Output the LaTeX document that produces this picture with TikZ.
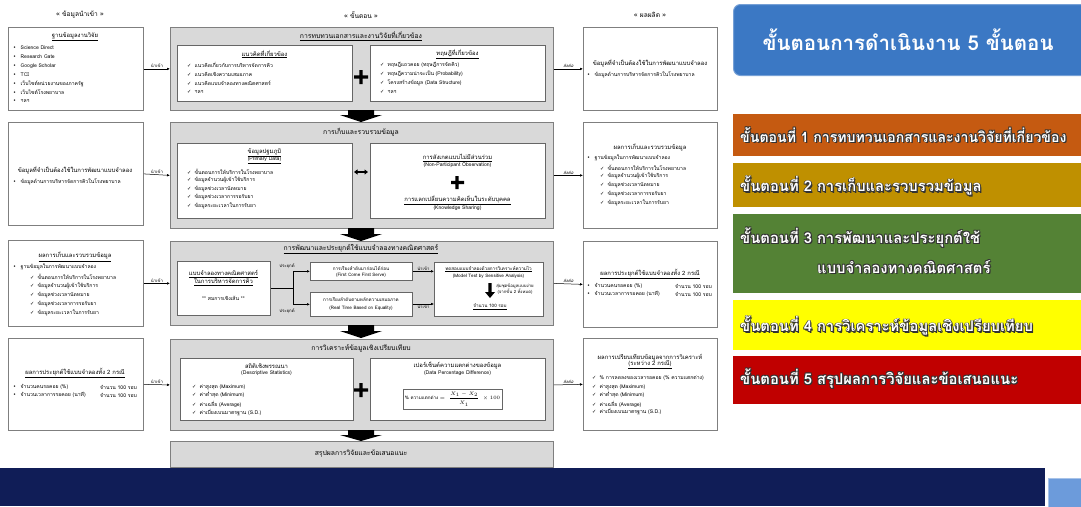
\documentclass[tikz,border=0pt]{standalone}
\usepackage{fontspec}
\setmainfont{Loma}[Script=Thai]
\newfontfamily\symf{DejaVu Sans}
\usetikzlibrary{arrows.meta}
\definecolor{stagegray}{HTML}{D9D9D9}
\definecolor{edgegray}{HTML}{7F7F7F}
\definecolor{titleblue}{HTML}{3B78C4}
\definecolor{sOne}{HTML}{C55A11}
\definecolor{sTwo}{HTML}{BF9000}
\definecolor{sThree}{HTML}{548235}
\definecolor{sFour}{HTML}{FFFF00}
\definecolor{sFive}{HTML}{C00000}
\definecolor{navy}{HTML}{101D57}
\definecolor{lightblue}{HTML}{6C9BDB}
\newcommand\ck{{\symf ✓}}
\newcommand\bul{{\symf •}}
% box from top-left (x1,y1) to bottom-right (x2,y2), pixel units
\newcommand\bx[6]{\node[#2, anchor=north west, minimum width=#5pt-#3pt, minimum height=#6pt-#4pt, inner sep=0pt] (#1) at (#3,#4) {};}
\newcommand\ckline[3]{\node[tx,anchor=west] at (#1,#2) {\makebox[7.5pt][l]{\ck}#3};}
\newcommand\bline[3]{\node[tx,anchor=west] at (#1,#2) {\makebox[7.5pt][l]{\bul}#3};}
% white lettering with a dark outline
\newcommand\shcopy[3]{\rlap{\kern#1pt\raisebox{#2pt}{\color{black!80}#3}}}
\newcommand\outlined[1]{\leavevmode\shcopy{-0.7}{0.7}{#1}\shcopy{0.7}{0.7}{#1}\shcopy{-0.7}{-0.7}{#1}\shcopy{0.7}{-0.7}{#1}\shcopy{1.3}{-1.3}{#1}#1}
\tikzset{
  frame/.style={draw=edgegray, line width=0.8pt, fill=white},
  stage/.style={draw=edgegray, line width=0.8pt, fill=stagegray},
  inner/.style={draw=edgegray!80!black, line width=0.7pt, fill=white},
  tx/.style={font=\fontsize{5.1}{6}\selectfont, inner sep=0pt},
  sm/.style={font=\fontsize{4.6}{5.5}\selectfont, inner sep=0pt},
  ttl/.style={font=\fontsize{5.9}{7}\selectfont, inner sep=0pt},
  stt/.style={font=\fontsize{6.8}{8}\selectfont, inner sep=0pt},
  hdr/.style={font=\fontsize{6.6}{8}\selectfont, inner sep=0pt},
  lbl/.style={font=\fontsize{4.3}{5}\selectfont, inner sep=1pt},
  link/.style={-{Latex[length=3pt,width=2.6pt]}, line width=0.5pt},
  big/.style={font=\fontsize{14.8}{17}\selectfont\bfseries, inner sep=0pt, anchor=west, text=white},
}
\begin{document}
\begin{tikzpicture}[x=1pt, y=-1pt]
\useasboundingbox (0,0) rectangle (1081,506);
\clip (0,0) rectangle (1081,506);
\fill[white] (0,0) rectangle (1081,506);

% column headers
\node[hdr] (h1) at (80,15) {« ข้อมูลนำเข้า »};
\node[hdr] (h2) at (361,15) {« ขั้นตอน »};
\node[hdr] (h3) at (650,15) {« ผลผลิต »};

% ---------------- input column ----------------
\bx{L1}{frame}{8}{27}{143}{110}
\node[ttl] (L1t) at (75,37) {\underline{ฐานข้อมูลงานวิจัย}};
\bline{13}{48}{Science Direct}
\bline{13}{57}{Research Gate}
\bline{13}{66}{Google Scholar}
\bline{13}{75}{TCI}
\bline{13}{84}{เว็บไซต์หน่วยงานของภาครัฐ}
\bline{13}{92}{เว็บไซต์โรงพยาบาล}
\bline{13}{101}{ฯลฯ}

\bx{L2}{frame}{8}{122}{143}{225}
\node[ttl] (L2t) at (75,170) {ข้อมูลที่จำเป็นต้องใช้ในการพัฒนาแบบจำลอง};
\bline{13}{182}{ข้อมูลด้านการบริหารจัดการคิวในโรงพยาบาล}

\bx{L3}{frame}{8}{240}{143}{326}
\node[ttl] (L3t) at (75,257) {\underline{ผลการเก็บและรวบรวมข้อมูล}};
\bline{13}{267}{ฐานข้อมูลในการพัฒนาแบบจำลอง}
\ckline{30}{277}{ขั้นตอนการให้บริการในโรงพยาบาล}
\ckline{30}{286}{ข้อมูลจำนวนผู้เข้าใช้บริการ}
\ckline{30}{295}{ข้อมูลช่วงเวลานัดหมาย}
\ckline{30}{304}{ข้อมูลช่วงเวลาการรอรับยา}
\ckline{30}{313}{ข้อมูลระยะเวลาในการรับยา}

\bx{L4}{frame}{8}{338}{143}{430}
\node[ttl] (L4t) at (75,373) {\underline{ผลการประยุกต์ใช้แบบจำลองทั้ง 2 กรณี}};
\bline{13}{387}{จำนวนคนรอคอย (\%)}
\bline{13}{395}{จำนวนเวลาการรอคอย (นาที)}
\node[tx,anchor=west] (L4a) at (100,387) {จำนวน 100 รอบ};
\node[tx,anchor=west] (L4b) at (100,395) {จำนวน 100 รอบ};

% ---------------- process column ----------------
% stage 1
\bx{S1}{stage}{170}{27}{553}{110}
\node[stt] (S1t) at (361,36) {\underline{การทบทวนเอกสารและงานวิจัยที่เกี่ยวข้อง}};
\bx{S1a}{inner}{177}{45}{352}{101}
\bx{S1b}{inner}{370}{45}{545}{101}
\node[ttl] (S1at) at (264.5,54) {\underline{แนวคิดที่เกี่ยวข้อง}};
\ckline{187}{65}{แนวคิดเกี่ยวกับการบริหารจัดการคิว}
\ckline{187}{74}{แนวคิดเชิงความเสมอภาค}
\ckline{187}{83}{แนวคิดแบบจำลองทางคณิตศาสตร์}
\ckline{187}{92}{ฯลฯ}
\node[ttl] (S1bt) at (457.5,54) {\underline{ทฤษฎีที่เกี่ยวข้อง}};
\ckline{380}{65}{ทฤษฎีแถวคอย (ทฤษฎีการจัดคิว)}
\ckline{380}{74}{ทฤษฎีความน่าจะเป็น (Probability)}
\ckline{380}{83}{โครงสร้างข้อมูล (Data Structure)}
\ckline{380}{92}{ฯลฯ}
\fill[black] (359.3,70) rectangle (362.7,84) (354,75.3) rectangle (368,78.7);

% block arrow between stages
\fill[black] (348,110) -- (374,110) -- (374,115) -- (382,115) -- (361,122) -- (340,115) -- (348,115) -- cycle;

% stage 2
\bx{S2}{stage}{170}{122}{553}{228}
\node[stt] (S2t) at (361,132) {การเก็บและรวบรวมข้อมูล};
\bx{S2a}{inner}{177}{143}{352}{218}
\bx{S2b}{inner}{370}{143}{545}{218}
\node[ttl] (S2at) at (264.5,153) {\underline{ข้อมูลปฐมภูมิ}};
\node[tx] (S2as) at (264.5,160) {\underline{(Primary Data)}};
\ckline{187}{172}{ขั้นตอนการให้บริการในโรงพยาบาล}
\ckline{187}{180}{ข้อมูลจำนวนผู้เข้าใช้บริการ}
\ckline{187}{189}{ข้อมูลช่วงเวลานัดหมาย}
\ckline{187}{197}{ข้อมูลช่วงเวลาการรอรับยา}
\ckline{187}{206}{ข้อมูลระยะเวลาในการรับยา}
\draw[{Triangle[length=3.5pt,width=5pt]}-{Triangle[length=3.5pt,width=5pt]}, line width=1.6pt] (354,172) -- (368,172);
\node[ttl] (S2bt) at (457.5,158) {\underline{การสังเกตแบบไม่มีส่วนร่วม}};
\node[tx] (S2bs) at (457.5,165) {(Non-Participant Observation)};
\fill[black] (455.3,176) rectangle (458.7,189) (451,180.8) rectangle (464,184.2);
\node[ttl] (S2bu) at (457.5,200) {\underline{การแลกเปลี่ยนความคิดเห็นในระดับบุคคล}};
\node[tx] (S2bv) at (457.5,208) {(Knowledge Sharing)};

\fill[black] (348,228) -- (374,228) -- (374,234) -- (382,234) -- (361,241) -- (340,234) -- (348,234) -- cycle;

% stage 3
\bx{S3}{stage}{170}{241}{553}{325}
\node[stt] (S3t) at (361,249) {\underline{การพัฒนาและประยุกต์ใช้แบบจำลองทางคณิตศาสตร์}};
\bx{A}{inner}{177}{261}{270}{315}
\node[ttl] (At1) at (223.5,274) {\underline{แบบจำลองทางคณิตศาสตร์}};
\node[ttl] (At2) at (223.5,282) {\underline{ในการบริหารจัดการคิว}};
\node[tx] (At3) at (223.5,298) {** สมการเชิงเส้น **};
\bx{B1}{inner}{310}{262}{412}{280}
\node[sm] (B1t) at (361,268) {การเรียงลำดับมาก่อนได้ก่อน};
\node[sm] (B1s) at (361,275) {(First Come First Serve)};
\bx{B2}{inner}{310}{292}{412}{316}
\node[sm] (B2t) at (361,300) {การเรียงลำดับตามหลักความเสมอภาค};
\node[sm] (B2s) at (361,308) {(Real Time Based on Equality)};
\coordinate (br) at (293,288);
\draw[line width=0.5pt] (A.east |- br) -- (br);
\draw[link] (br) |- (B1.west);
\draw[link] (br) |- (B2.west);
\node[lbl] (ap1) at (287,266) {ประยุกต์};
\node[lbl] (ap2) at (287,311) {ประยุกต์};
\bx{C}{inner}{434}{262}{543}{316}
\node[sm] (Ct) at (488.5,269) {\underline{ทดสอบแบบจำลองด้วยการวิเคราะห์ความไว}};
\node[sm] (Cs) at (488.5,276) {(Model Test by Sensitive Analysis)};
\fill[black] (488.3,283) rectangle (491.7,292) (485,292) -- (495,292) -- (490,298) -- cycle;
\node[lbl] (Cr1) at (515,286) {สุ่มชุดข้อมูลแบบง่าย};
\node[lbl] (Cr2) at (515,292) {(จากขั้น 2 ทั้งหมด)};
\node[sm] (Cn) at (490,307) {\underline{จำนวน 100 รอบ}};
\draw[link] (B1.east) -- (B1.east -| C.west) node[lbl, midway, above] (in1) {นำเข้า};
\draw[link] (B2.east |- 0,304) -- (C.west |- 0,304) node[lbl, midway, below] (in2) {นำเข้า};

\fill[black] (348,325) -- (374,325) -- (374,331) -- (382,331) -- (361,338) -- (340,331) -- (348,331) -- cycle;

% stage 4
\bx{S4}{stage}{170}{339}{553}{430}
\node[stt] (S4t) at (361,348) {การวิเคราะห์ข้อมูลเชิงเปรียบเทียบ};
\bx{S4a}{inner}{180}{358}{353}{420}
\bx{S4b}{inner}{370}{358}{545}{420}
\node[ttl] (S4at) at (266.5,366) {สถิติเชิงพรรณนา};
\node[tx] (S4as) at (266.5,373) {(Descriptive Statistics)};
\ckline{192}{387}{ค่าสูงสุด (Maximum)}
\ckline{192}{395}{ค่าต่ำสุด (Minimum)}
\ckline{192}{404}{ค่าเฉลี่ย (Average)}
\ckline{192}{413}{ค่าเบี่ยงเบนมาตรฐาน (S.D.)}
\fill[black] (359.3,383) rectangle (362.7,397) (354,388.3) rectangle (368,391.7);
\node[ttl] (S4bt) at (457.5,366) {เปอร์เซ็นต์ความแตกต่างของข้อมูล};
\node[tx] (S4bs) at (457.5,373) {(Data Percentage Difference)};
\bx{F}{inner}{403}{389}{502}{409}
\node[sm] (Ft) at (452.5,399) {\% ความแตกต่าง $=\;\displaystyle\frac{X_1-X_2}{X_1}\;\times 100$};

\fill[black] (348,430) -- (374,430) -- (374,435) -- (382,435) -- (361,441) -- (340,435) -- (348,435) -- cycle;

% stage 5
\bx{S5}{stage}{170}{441}{553}{467}
\node[stt] (S5t) at (361,454) {สรุปผลการวิจัยและข้อเสนอแนะ};

% ---------------- output column ----------------
\bx{R1}{frame}{583}{27}{717}{110}
\node[ttl] (R1t) at (650,63) {ข้อมูลที่จำเป็นต้องใช้ในการพัฒนาแบบจำลอง};
\bline{587}{75}{ข้อมูลด้านการบริหารจัดการคิวในโรงพยาบาล}

\bx{R2}{frame}{583}{122}{717}{228}
\node[ttl] (R2t) at (650,148) {ผลการเก็บและรวบรวมข้อมูล};
\bline{587}{158}{ฐานข้อมูลในการพัฒนาแบบจำลอง}
\ckline{600}{168}{ขั้นตอนการให้บริการในโรงพยาบาล}
\ckline{600}{176}{ข้อมูลจำนวนผู้เข้าใช้บริการ}
\ckline{600}{185}{ข้อมูลช่วงเวลานัดหมาย}
\ckline{600}{194}{ข้อมูลช่วงเวลาการรอรับยา}
\ckline{600}{203}{ข้อมูลระยะเวลาในการรับยา}

\bx{R3}{frame}{583}{241}{717}{327}
\node[ttl] (R3t) at (650,274) {\underline{ผลการประยุกต์ใช้แบบจำลองทั้ง 2 กรณี}};
\bline{587}{286}{จำนวนคนรอคอย (\%)}
\bline{587}{294}{จำนวนเวลาการรอคอย (นาที)}
\node[tx,anchor=west] (R3a) at (675,286) {จำนวน 100 รอบ};
\node[tx,anchor=west] (R3b) at (675,294) {จำนวน 100 รอบ};

\bx{R4}{frame}{583}{338}{717}{430}
\node[ttl] (R4t) at (650,358) {ผลการเปรียบเทียบข้อมูลจากการวิเคราะห์};
\node[ttl] (R4s) at (650,365) {\underline{(ระหว่าง 2 กรณี)}};
\ckline{592}{378}{\% การลดลงของเวลารอคอย (\% ความแตกต่าง)}
\ckline{592}{387}{ค่าสูงสุด (Maximum)}
\ckline{592}{395}{ค่าต่ำสุด (Minimum)}
\ckline{592}{404}{ค่าเฉลี่ย (Average)}
\ckline{592}{412}{ค่าเบี่ยงเบนมาตรฐาน (S.D.)}

% ---------------- connectors ----------------
\foreach \i in {1,...,4}{
  \draw[link] (L\i.east) -- (S\i.west) node[lbl, midway, above] {นำเข้า};
  \draw[link] (S\i.east) -- (R\i.west) node[lbl, midway, above] {\itshape ส่งต่อ};
}

% ---------------- step panel ----------------
\node[draw=titleblue!70!white, line width=1pt, fill=titleblue, rounded corners=7pt, anchor=north west,
      minimum width=360pt, minimum height=71pt] (T) at (733,4) {};
\node[font=\fontsize{20.5}{24}\selectfont\bfseries, text=white, inner sep=0pt] (Tt) at (908,40) {ขั้นตอนการดำเนินงาน 5 ขั้นตอน};

\bx{P1}{fill=sOne}{733}{114}{1090}{156}
\bx{P2}{fill=sTwo}{733}{163}{1090}{207}
\bx{P3}{fill=sThree}{733}{214}{1090}{293}
\bx{P4}{fill=sFour}{733}{300}{1090}{350}
\bx{P5}{fill=sFive}{733}{356}{1090}{404}

\node[big, font=\fontsize{14.1}{17}\selectfont\bfseries] (p1) at (740,135) {\outlined{ขั้นตอนที่ 1 การทบทวนเอกสารและงานวิจัยที่เกี่ยวข้อง}};
\node[big] (p2) at (740,186) {\outlined{ขั้นตอนที่ 2 การเก็บและรวบรวมข้อมูล}};
\node[big] (p3) at (740,238) {\outlined{ขั้นตอนที่ 3 การพัฒนาและประยุกต์ใช้}};
\node[big] (p3b) at (817,267) {\outlined{แบบจำลองทางคณิตศาสตร์}};
\node[big] (p4) at (740,326) {\outlined{ขั้นตอนที่ 4 การวิเคราะห์ข้อมูลเชิงเปรียบเทียบ}};
\node[big] (p5) at (740,379) {\outlined{ขั้นตอนที่ 5 สรุปผลการวิจัยและข้อเสนอแนะ}};

% footer band
\fill[navy] (0,468) rectangle (1045,506);
\node[draw=lightblue!60!white, line width=1pt, fill=lightblue, anchor=north west, minimum width=40pt, minimum height=30pt] (corner) at (1048,478) {};
\end{tikzpicture}
\end{document}
